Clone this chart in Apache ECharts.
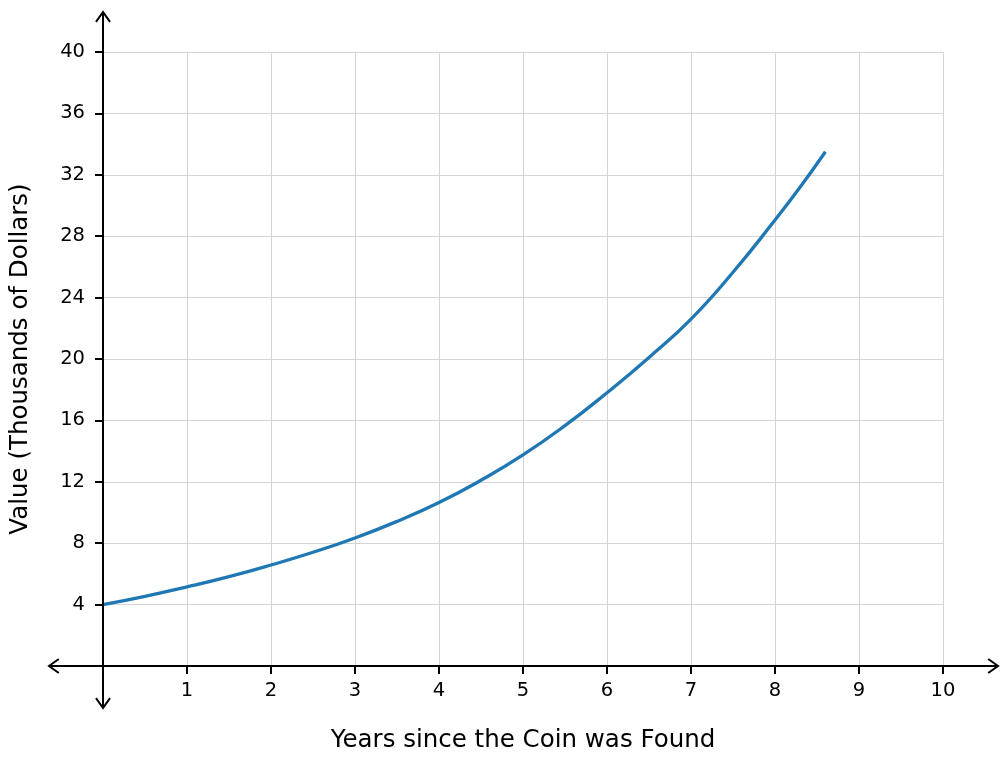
<!DOCTYPE html>
<html>
<head>
<meta charset="utf-8">
<script src="https://cdn.jsdelivr.net/npm/echarts@6/dist/echarts.min.js"></script>
<style>
html,body{margin:0;padding:0;background:#fff;}
#chart{width:1002px;height:767px;}
</style>
</head>
<body>
<div id="chart"></div>
<script>
// Years since the coin was found
const years = [0, 0.5, 1, 1.5, 2, 2.5, 3, 3.5, 4, 4.5, 5, 5.5, 6, 6.5, 7, 7.5, 8, 8.3, 8.6];
// Value in thousands of dollars
const values = [4.0, 4.54, 5.15, 5.82, 6.58, 7.41, 8.34, 9.42, 10.65, 12.1, 13.75, 15.66, 17.8, 20.1, 22.6, 25.65, 29.05, 31.2, 33.5];
const xTicks = [0, 10, 1];   // min, max, interval
const yTicks = [0, 40, 4];
const xTitle = 'Years since the Coin was Found';
const yTitle = 'Value (Thousands of Dollars)';

const FONT = 'DejaVu Sans';
const chart = echarts.init(document.getElementById('chart'), null, {renderer: 'canvas'});
const seriesData = years.map((x, i) => [x, values[i]]);

chart.setOption({
  animation: false,
  backgroundColor: '#ffffff',
  grid: {left: 102, right: 59, top: 52, bottom: 101, containLabel: false},
  xAxis: {
    type: 'value', min: xTicks[0], max: xTicks[1], interval: xTicks[2],
    axisLine: {show: false},
    axisTick: {show: true, length: 8, lineStyle: {color: '#000', width: 2}},
    axisLabel: {
      show: true, margin: 15, color: '#000', fontFamily: FONT, fontSize: 19.5,
      formatter: v => v === 0 ? '' : String(v)
    },
    splitLine: {show: true, lineStyle: {color: '#d4d4d4', width: 1}},
    name: xTitle, nameLocation: 'middle', nameGap: 62,
    nameTextStyle: {color: '#000', fontFamily: FONT, fontSize: 24.5}
  },
  yAxis: {
    type: 'value', min: yTicks[0], max: yTicks[1], interval: yTicks[2],
    axisLine: {show: false},
    axisTick: {show: true, length: 8, lineStyle: {color: '#000', width: 2}},
    axisLabel: {
      show: true, margin: 18, color: '#000', fontFamily: FONT, fontSize: 19.5,
      formatter: v => v === 0 ? '' : String(v)
    },
    splitLine: {show: true, lineStyle: {color: '#d4d4d4', width: 1}},
    name: yTitle, nameLocation: 'middle', nameGap: 70,
    nameTextStyle: {color: '#000', fontFamily: FONT, fontSize: 24.5}
  },
  series: [{
    type: 'line', data: seriesData, smooth: true, showSymbol: false,
    lineStyle: {color: '#1f77b4', width: 3.3}, z: 5
  }]
});

// Axis lines with arrow heads (positions derived from the axes)
const o = chart.convertToPixel({gridIndex: 0}, [0, 0]);
const xe = chart.convertToPixel({gridIndex: 0}, [xTicks[1], 0]);
const ye = chart.convertToPixel({gridIndex: 0}, [0, yTicks[1]]);
const xl = o[0] - 54, xr = xe[0] + 55, yt = ye[1] - 40, yb = o[1] + 42;
const ls = {stroke: '#000', lineWidth: 2, fill: null};
const ah = 7;
chart.setOption({
  graphic: [
    {type: 'line', shape: {x1: xl, y1: o[1], x2: xr, y2: o[1]}, style: ls, z: 10},
    {type: 'line', shape: {x1: o[0], y1: yt, x2: o[0], y2: yb}, style: ls, z: 10},
    {type: 'polyline', shape: {points: [[xr - ah*1.4, o[1] - ah], [xr, o[1]], [xr - ah*1.4, o[1] + ah]]}, style: ls, z: 10},
    {type: 'polyline', shape: {points: [[xl + ah*1.4, o[1] - ah], [xl, o[1]], [xl + ah*1.4, o[1] + ah]]}, style: ls, z: 10},
    {type: 'polyline', shape: {points: [[o[0] - ah, yt + ah*1.4], [o[0], yt], [o[0] + ah, yt + ah*1.4]]}, style: ls, z: 10},
    {type: 'polyline', shape: {points: [[o[0] - ah, yb - ah*1.4], [o[0], yb], [o[0] + ah, yb - ah*1.4]]}, style: ls, z: 10}
  ]
});
</script>
</body>
</html>
